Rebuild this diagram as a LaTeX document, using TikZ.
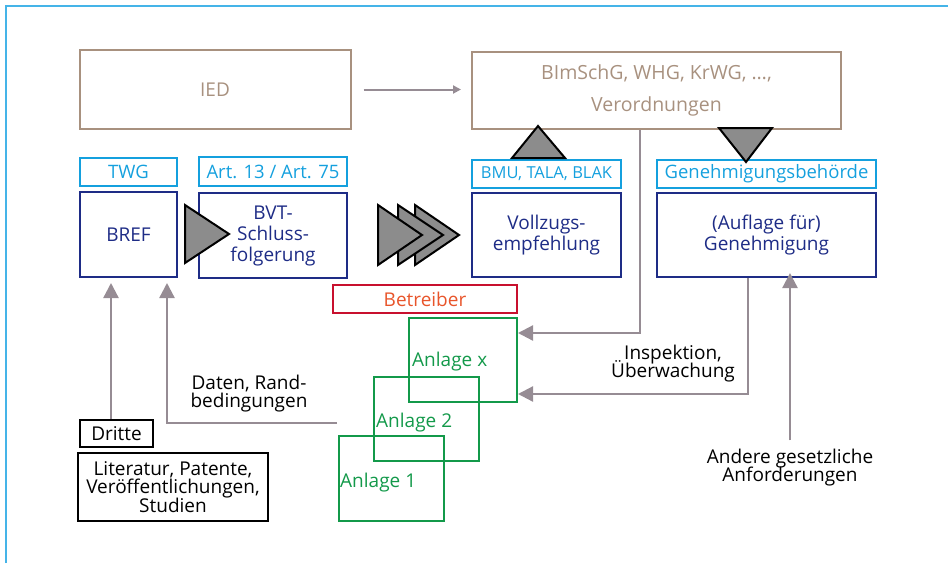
\documentclass[tikz,border=0pt]{standalone}
\usepackage{fontspec}
\setmainfont{Open Sans}
\usetikzlibrary{arrows.meta}
\definecolor{frameblue}{HTML}{45B4E8}
\definecolor{brn}{HTML}{A8917F}
\definecolor{cyn}{HTML}{14A0DE}
\definecolor{navy}{HTML}{1E2C86}
\definecolor{rd}{HTML}{C8102E}
\definecolor{org}{HTML}{E8552B}
\definecolor{grn}{HTML}{13994A}
\definecolor{gry}{HTML}{968C94}
\definecolor{trig}{HTML}{8C8C8C}
\newcommand\mytightls{\lineskiplimit=-30pt\relax}
\begin{document}
\begin{tikzpicture}[x=1pt,y=-1pt,
  every node/.style={font=\fontsize{19}{21}\selectfont\mytightls, inner sep=0pt},
  box/.style={draw, line width=2pt, align=center},
  brnbox/.style={box, draw=brn, text=brn},
  cynbox/.style={box, draw=cyn, text=cyn, font=\fontsize{18.5}{20}\selectfont},
  navbox/.style={box, draw=navy, text=navy},
  grnbox/.style={box, draw=grn},
  blkbox/.style={box, draw=black, line width=2.8pt, font=\fontsize{19}{18.5}\selectfont\mytightls},
  lbl/.style={align=center, font=\fontsize{19}{18}\selectfont\mytightls},
  arr/.style={draw=gry, line width=2.3pt, -{Triangle[length=15pt,width=15pt]}},
  thinarr/.style={draw=gry, line width=2pt, -{Triangle[length=8pt,width=8pt]}},
  tri/.style={draw=black, line width=2pt, fill=trig, line join=miter}
]
\useasboundingbox (0,0) rectangle (948,563);
% frame
\draw[frameblue, line width=2pt] (5.5,563) -- (5.5,5.5) -- (948,5.5);

% top row
\node[brnbox, minimum width=271pt, minimum height=79pt] (ied) at (215,89.5) {IED};
\node[brnbox, minimum width=369pt, minimum height=77pt, font=\fontsize{19.5}{32}\selectfont] (bim) at (656.5,90.5) {BImSchG, WHG, KrWG, …,\\Verordnungen};

% header boxes
\node[cynbox, minimum width=97pt, minimum height=28pt] (twg) at (128.5,172) {TWG};
\node[cynbox, minimum width=148pt, minimum height=29pt] (art) at (273,171.5) {Art. 13 / Art. 75};
\node[cynbox, minimum width=149pt, minimum height=28pt, font=\fontsize{16.5}{18}\selectfont] (bmu) at (546.5,174) {BMU, TALA, BLAK};
\node[cynbox, minimum width=219pt, minimum height=28pt] (gb) at (766.5,174) {Genehmigungsbehörde};

% main boxes
\node[navbox, minimum width=97pt, minimum height=85pt] (bref) at (128.5,234.5) {BREF};
\node[navbox, minimum width=148pt, minimum height=85pt] (bvt) at (273,235.5) {BVT-\\Schluss-\\folgerung};
\node[navbox, minimum width=149pt, minimum height=84pt] (vollz) at (546.5,235) {Vollzugs-\\empfehlung};
\node[navbox, minimum width=219pt, minimum height=84pt] (genehm) at (766.5,235) {(Auflage für)\\Genehmigung};

% Betreiber and Anlagen
\node[box, draw=rd, text=org, minimum width=184pt, minimum height=28pt] (betr) at (425,299) {Betreiber};
\node[grnbox, minimum width=108pt, minimum height=84pt] (ax) at (463,360) {};
\node[grnbox, minimum width=105pt, minimum height=84pt] (a2) at (426.5,419) {};
\node[grnbox, minimum width=105pt, minimum height=85pt] (a1) at (391.5,478.5) {};
\node[anchor=west, text=grn] (axl) at ([xshift=4pt,yshift=-2pt]ax.west) {Anlage x};
\node[anchor=west, text=grn] (a2l) at ([xshift=3pt,yshift=-4pt]a2.west) {Anlage 2};
\node[anchor=west, text=grn] (a1l) at ([xshift=2pt,yshift=-4.5pt]a1.west) {Anlage 1};

% Dritte
\node[blkbox, minimum width=73pt, minimum height=27pt] (dritte) at (116.5,433.5) {Dritte};
\node[blkbox, minimum width=190pt, minimum height=68pt] (lit) at (173,487) {Literatur, Patente,\\Veröffentlichungen,\\Studien};

% free labels
\node[lbl] (daten) at (249,394) {Daten, Rand-\\bedingungen};
\node[lbl] (insp) at (673,364) {Inspektion,\\Überwachung};
\node[lbl] (andere) at (790,468) {Andere gesetzliche\\Anforderungen};

% connectors
\draw[thinarr, shorten <=12pt, shorten >=10pt] (ied.east) -- (ied.east -| bim.west);
\draw[arr] ([xshift=-16.5pt]bim.south) |- ([yshift=27pt]ax.east);
\draw[arr] ([xshift=-18.5pt]genehm.south) |- ([yshift=-34pt]ax.east);
\draw[arr, shorten >=5pt, shorten <=-1pt] ([yshift=10pt]andere.north) -- ([yshift=10pt]andere.north |- genehm.south);
\draw[arr, shorten >=5pt] ([xshift=-5.5pt]dritte.north) -- ([xshift=-5.5pt]dritte.north |- bref.south);
\draw[arr, shorten >=5pt] ([xshift=-1pt,yshift=12pt]a1.north west) -| ([xshift=38.5pt]bref.south);

% triangles
\draw[tri] (185,205) -- (185,263) -- (229,234) -- cycle;
\draw[tri] (415,205) -- (415,265) -- (459,235) -- cycle;
\draw[tri] (398,205) -- (398,265) -- (443,235) -- cycle;
\draw[tri] (378,205) -- (378,265) -- (422,235) -- cycle;
\draw[tri] (538,126) -- (565,158) -- (512,158) -- cycle;
\draw[tri] (719,128) -- (772,128) -- (746,162) -- cycle;
\end{tikzpicture}
\end{document}
